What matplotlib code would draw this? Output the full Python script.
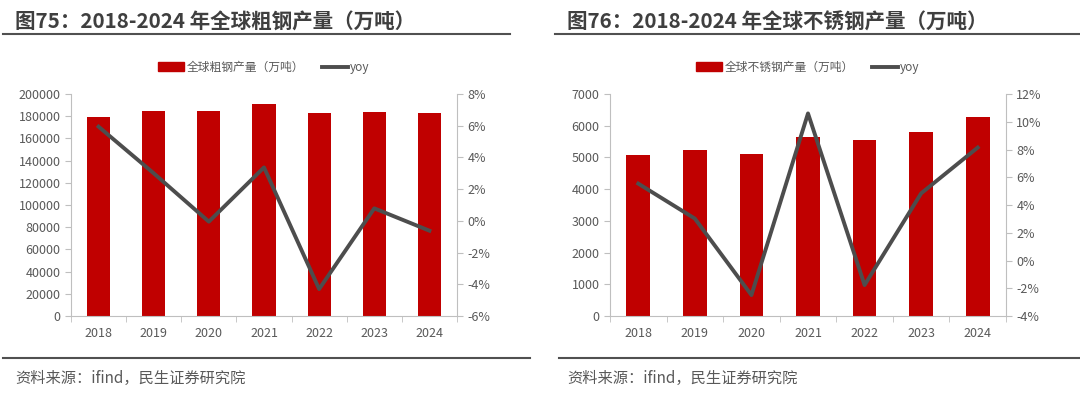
import numpy as np
import matplotlib.pyplot as plt
from matplotlib.lines import Line2D
from matplotlib.ticker import FuncFormatter

plt.rcParams['font.family'] = ['Noto Sans CJK SC', 'DejaVu Sans']

years = ['2018', '2019', '2020', '2021', '2022', '2023', '2024']
# 全球粗钢产量（万吨）
crude_steel = [179300, 185000, 184700, 191000, 182900, 184100, 183200]
crude_yoy = [5.94, 3.0, -0.05, 3.37, -4.3, 0.79, -0.62]
# 全球不锈钢产量（万吨）
stainless = [5089, 5236, 5110, 5636, 5541, 5804, 6267]
stainless_yoy = [5.54, 3.02, -2.49, 10.6, -1.77, 4.84, 8.14]

RED = '#C00000'
LINE = '#4D4D4D'
TXT = '#595959'
W, H = 1080, 399

fig = plt.figure(figsize=(W / 100, H / 100), dpi=100)


def px(x0, y0, x1, y1):
    # pixel box -> figure fraction rect
    return [x0 / W, 1 - y1 / H, (x1 - x0) / W, (y1 - y0) / H]


def panel(rect, vals, yoy, ylim, yticks, y2lim, y2ticks, bar_label):
    ax = fig.add_axes(rect)
    x = np.arange(len(years))
    ax.bar(x, vals, width=0.42, color=RED, zorder=2)
    ax.set_xlim(-0.5, len(years) - 0.5)
    ax.set_ylim(*ylim)
    ax.set_yticks(yticks)
    ax.set_xticks(x)
    ax.set_xticklabels(years)
    ax.set_xticks(np.arange(-0.5, len(years)), minor=True)
    ax.tick_params(axis='x', which='major', length=0, pad=8, labelsize=9, colors=TXT)
    ax.tick_params(axis='x', which='minor', length=4, color='#BFBFBF')
    ax.tick_params(axis='y', length=4, color='#BFBFBF', labelsize=9, labelcolor=TXT)
    for s in ['top', 'right']:
        ax.spines[s].set_visible(False)
    for s in ['left', 'bottom']:
        ax.spines[s].set_color('#BFBFBF')

    ax2 = ax.twinx()
    ax2.plot(x, yoy, color=LINE, lw=2.8, zorder=3)
    ax2.set_ylim(*y2lim)
    ax2.set_yticks(y2ticks)
    ax2.yaxis.set_major_formatter(FuncFormatter(lambda v, p: f'{v:.0f}%'))
    ax2.tick_params(axis='y', length=4, color='#BFBFBF', labelsize=9, labelcolor=TXT)
    for s in ['top', 'left', 'bottom']:
        ax2.spines[s].set_visible(False)
    ax2.spines['right'].set_color('#BFBFBF')

    handles = [plt.Rectangle((0, 0), 1, 1, color=RED), Line2D([], [], color=LINE, lw=2.8)]
    ax.legend(handles, [bar_label, 'yoy'], loc='center', bbox_to_anchor=(0.5, 1.12),
              ncol=2, frameon=False, fontsize=8.5, labelcolor=TXT,
              handlelength=2.2, handleheight=0.8, handletextpad=0.2, columnspacing=1.5)
    return ax


panel(px(71, 94, 457, 316), crude_steel, crude_yoy,
      (0, 200000), range(0, 200001, 20000), (-6, 8), range(-6, 9, 2),
      '全球粗钢产量（万吨）')
panel(px(610, 94, 1006, 316), stainless, stainless_yoy,
      (0, 7000), range(0, 7001, 1000), (-4, 12), range(-4, 13, 2),
      '全球不锈钢产量（万吨）')

# titles, rules and source notes
fig.text(15 / W, 1 - 22 / H, '图75：2018-2024 年全球粗钢产量（万吨）', fontsize=14.8,
         fontweight='bold', color='#3F3F3F', va='center')
fig.text(567 / W, 1 - 22 / H, '图76：2018-2024 年全球不锈钢产量（万吨）', fontsize=14.8,
         fontweight='bold', color='#3F3F3F', va='center')
for x0, x1 in [(3, 510), (555, 1080)]:
    fig.add_artist(Line2D([x0 / W, x1 / W], [1 - 34 / H] * 2, color='#505050', lw=1.5))
for x0, x1 in [(3, 530), (559, 1080)]:
    fig.add_artist(Line2D([x0 / W, x1 / W], [1 - 358 / H] * 2, color='#505050', lw=1.5))
fig.text(15 / W, 1 - 378 / H, '资料来源：ifind，民生证券研究院', fontsize=11, color=TXT, va='center')
fig.text(567 / W, 1 - 378 / H, '资料来源：ifind，民生证券研究院', fontsize=11, color=TXT, va='center')

fig.savefig('out.png', dpi=100)
